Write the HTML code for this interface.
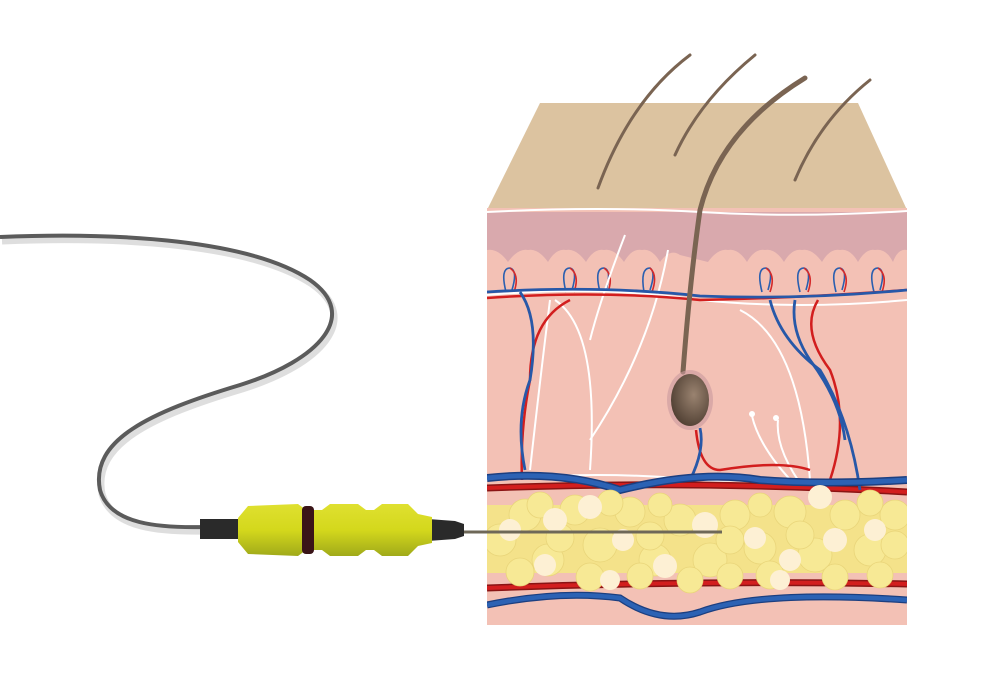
<!DOCTYPE html>
<html><head><meta charset="utf-8"><style>html,body{margin:0;padding:0;background:#fff}svg{display:block}</style></head>
<body>
<svg width="1008" height="685" viewBox="0 0 1008 685" xmlns="http://www.w3.org/2000/svg">
<defs>
<clipPath id="sk"><rect x="487" y="205" width="420" height="420"/></clipPath>
<radialGradient id="bulb" cx="0.6" cy="0.4" r="0.7"><stop offset="0" stop-color="#9a8370"/><stop offset="1" stop-color="#4a3a2e"/></radialGradient>
<linearGradient id="yel" x1="0" y1="0" x2="0" y2="1"><stop offset="0" stop-color="#dfe030"/><stop offset="0.5" stop-color="#d4d81c"/><stop offset="1" stop-color="#a0aa1a"/></linearGradient>
</defs>
<path d="M0,237 C120,232 250,240 310,280 C360,315 320,360 240,385 C150,412 90,440 100,490 C110,525 160,528 205,527" fill="none" stroke="#c8c8c8" stroke-width="7" transform="translate(2,4)" opacity="0.6"/>
<path d="M0,237 C120,232 250,240 310,280 C360,315 320,360 240,385 C150,412 90,440 100,490 C110,525 160,528 205,527" fill="none" stroke="#5b5b5b" stroke-width="4"/>
<polygon points="540,103 858,103 907,210 487,210" fill="#dcc3a0"/>
<rect x="487" y="208" width="420" height="417" fill="#f3c1b5"/>
<g clip-path="url(#sk)">
<path d="M487,212 L907,212 L907,250 Q898,248 893,262 Q886,248 875,250 Q866,248 858,262 Q850,248 840,250 Q830,248 822,262 Q812,248 802,250 Q792,248 784,262 Q775,248 765,250 Q755,248 747,262 Q738,248 728,250 Q718,248 708,262 L680,255 Q670,248 660,262 Q652,248 642,250 Q632,248 624,262 Q614,248 604,250 Q594,248 586,262 Q576,248 566,250 Q556,248 548,262 Q538,248 528,250 Q518,248 508,262 Q498,248 487,250 Z" fill="#d9a9ad"/>
<path d="M487,212 Q600,206 700,212 T907,211" stroke="#fff" stroke-width="2" fill="none"/>
<g fill="none" stroke-width="1.6">
<path d="M506,292 Q500,268 510,268 Q518,270 512,290" stroke="#2a5fb0"/><path d="M566,292 Q560,268 570,268 Q578,270 572,290" stroke="#2a5fb0"/><path d="M600,292 Q594,268 604,268 Q612,270 606,290" stroke="#2a5fb0"/><path d="M644,292 Q640,268 650,268 Q656,272 650,290" stroke="#2a5fb0"/>
<path d="M762,292 Q756,268 766,268 Q774,270 768,290" stroke="#2a5fb0"/><path d="M800,292 Q794,268 804,268 Q812,270 806,290" stroke="#2a5fb0"/><path d="M836,292 Q830,268 840,268 Q848,270 842,290" stroke="#2a5fb0"/><path d="M874,292 Q868,268 878,268 Q886,270 880,290" stroke="#2a5fb0"/>
<path d="M510,268 Q520,275 514,292 M570,268 Q580,275 574,292 M604,268 Q614,275 608,292 M650,268 Q658,275 652,292 M766,268 Q776,275 770,292 M804,268 Q814,275 808,292 M840,268 Q850,275 844,292 M878,268 Q888,275 882,292" stroke="#d42a2a"/>
</g>
<g fill="none" stroke="#fff" stroke-width="2">
<path d="M487,295 Q600,285 700,300 Q800,310 907,300"/>
<path d="M550,300 Q540,380 530,470"/>
<path d="M555,300 Q600,330 590,470"/>
<path d="M625,235 Q600,300 590,340"/>
<path d="M668,250 Q650,350 590,440"/>
<path d="M740,310 Q800,340 810,480"/>
<path d="M752,416 Q760,450 800,490 M778,420 Q775,450 805,490"/>
<path d="M487,480 Q600,470 700,480 T907,480"/>
</g>
<circle cx="752" cy="414" r="3" fill="#fff"/><circle cx="776" cy="418" r="3" fill="#fff"/>
<g fill="none" stroke="#d21e1e" stroke-width="2.5">
<path d="M487,298 Q600,290 700,300 Q800,298 907,290"/>
<path d="M570,300 Q530,320 530,380 Q520,430 522,480"/>
<path d="M818,300 Q800,330 830,370 Q850,420 830,480"/>
<path d="M696,430 Q700,470 720,470 Q780,460 810,470"/>
</g>
<path d="M487,488 Q700,480 907,492" fill="none" stroke="#8a1414" stroke-width="7"/>
<path d="M487,488 Q700,480 907,492" fill="none" stroke="#d21e1e" stroke-width="4"/>
<path d="M487,588 Q700,580 907,584" fill="none" stroke="#8a1414" stroke-width="7"/>
<path d="M487,588 Q700,580 907,584" fill="none" stroke="#d21e1e" stroke-width="4"/>
<g fill="none" stroke="#2758a8" stroke-width="2.8">
<path d="M487,292 Q600,285 700,296 Q800,300 907,290"/>
<path d="M520,292 Q540,320 530,380 Q515,420 525,470"/>
<path d="M770,300 Q780,340 820,370 Q850,420 860,490"/>
<path d="M795,300 Q790,330 810,360 Q840,400 845,440"/>
<path d="M700,428 Q705,450 690,480"/>
</g>
<path d="M487,478 Q560,470 620,490 Q700,470 760,480 Q820,485 907,480" fill="none" stroke="#1c3f80" stroke-width="8"/>
<path d="M487,478 Q560,470 620,490 Q700,470 760,480 Q820,485 907,480" fill="none" stroke="#2c62b4" stroke-width="5"/>
<path d="M487,605 Q560,590 620,598 Q660,625 700,612 Q760,590 907,600" fill="none" stroke="#1c3f80" stroke-width="7"/>
<path d="M487,605 Q560,590 620,598 Q660,625 700,612 Q760,590 907,600" fill="none" stroke="#2c62b4" stroke-width="4.5"/>
<rect x="487" y="505" width="420" height="68" fill="#f4e28a"/>
<g fill="#f7e995" stroke="#e9d57a" stroke-width="0.8">
<circle cx="500" cy="540" r="16"/><circle cx="525" cy="515" r="16"/><circle cx="548" cy="560" r="16"/><circle cx="575" cy="510" r="15"/><circle cx="600" cy="545" r="17"/><circle cx="630" cy="512" r="15"/><circle cx="655" cy="560" r="16"/><circle cx="680" cy="520" r="16"/><circle cx="710" cy="560" r="17"/><circle cx="735" cy="515" r="15"/><circle cx="760" cy="548" r="16"/><circle cx="790" cy="512" r="16"/><circle cx="815" cy="555" r="17"/><circle cx="845" cy="515" r="15"/><circle cx="870" cy="550" r="16"/><circle cx="895" cy="515" r="15"/>
<circle cx="520" cy="572" r="14"/><circle cx="590" cy="577" r="14"/><circle cx="690" cy="580" r="13"/><circle cx="770" cy="575" r="14"/><circle cx="880" cy="575" r="13"/><circle cx="640" cy="576" r="13"/><circle cx="730" cy="576" r="13"/><circle cx="835" cy="577" r="13"/>
<circle cx="540" cy="505" r="13"/><circle cx="610" cy="503" r="13"/><circle cx="660" cy="505" r="12"/><circle cx="760" cy="505" r="12"/><circle cx="870" cy="503" r="13"/>
<circle cx="560" cy="538" r="14"/><circle cx="650" cy="536" r="14"/><circle cx="730" cy="540" r="14"/><circle cx="800" cy="535" r="14"/><circle cx="895" cy="545" r="14"/>
</g>
<g fill="#fdf0d4">
<circle cx="510" cy="530" r="11"/><circle cx="555" cy="520" r="12"/><circle cx="590" cy="507" r="12"/><circle cx="623" cy="540" r="11"/><circle cx="705" cy="525" r="13"/><circle cx="755" cy="538" r="11"/><circle cx="820" cy="497" r="12"/><circle cx="835" cy="540" r="12"/><circle cx="875" cy="530" r="11"/><circle cx="545" cy="565" r="11"/><circle cx="665" cy="566" r="12"/><circle cx="790" cy="560" r="11"/><circle cx="610" cy="580" r="10"/><circle cx="780" cy="580" r="10"/>
</g>
</g>
<g fill="none" stroke="#7a6452" stroke-width="3" stroke-linecap="round">
<path d="M598,188 Q630,100 690,55"/>
<path d="M675,155 Q700,100 755,55"/>
<path d="M795,180 Q820,120 870,80"/>
</g>
<path d="M683,372 Q690,280 700,210 Q720,130 805,78" fill="none" stroke="#7a6452" stroke-width="5" stroke-linecap="round"/>
<ellipse cx="690" cy="400" rx="23" ry="30" fill="#c99a9e" opacity="0.6"/>
<ellipse cx="690" cy="400" rx="19" ry="26" fill="url(#bulb)"/>
<line x1="460" y1="532" x2="722" y2="532" stroke="#6e6858" stroke-width="3"/>
<rect x="200" y="519" width="40" height="20" fill="#2a2a2a"/>
<path d="M428,519 L455,521 L464,524 L464,536 L455,539 L428,541 Z" fill="#2a2a2a"/>
<path d="M238,518 L248,506 L298,504 L306,510 L322,510 L330,504 L358,504 L366,510 L374,510 L382,504 L408,504 L418,514 L432,517 L432,543 L418,546 L408,556 L382,556 L374,550 L366,550 L358,556 L330,556 L322,550 L306,550 L298,556 L248,554 L238,542 Z" fill="url(#yel)"/>
<rect x="302" y="506" width="12" height="48" rx="4" fill="#3a1418"/>
</svg>
</body></html>
